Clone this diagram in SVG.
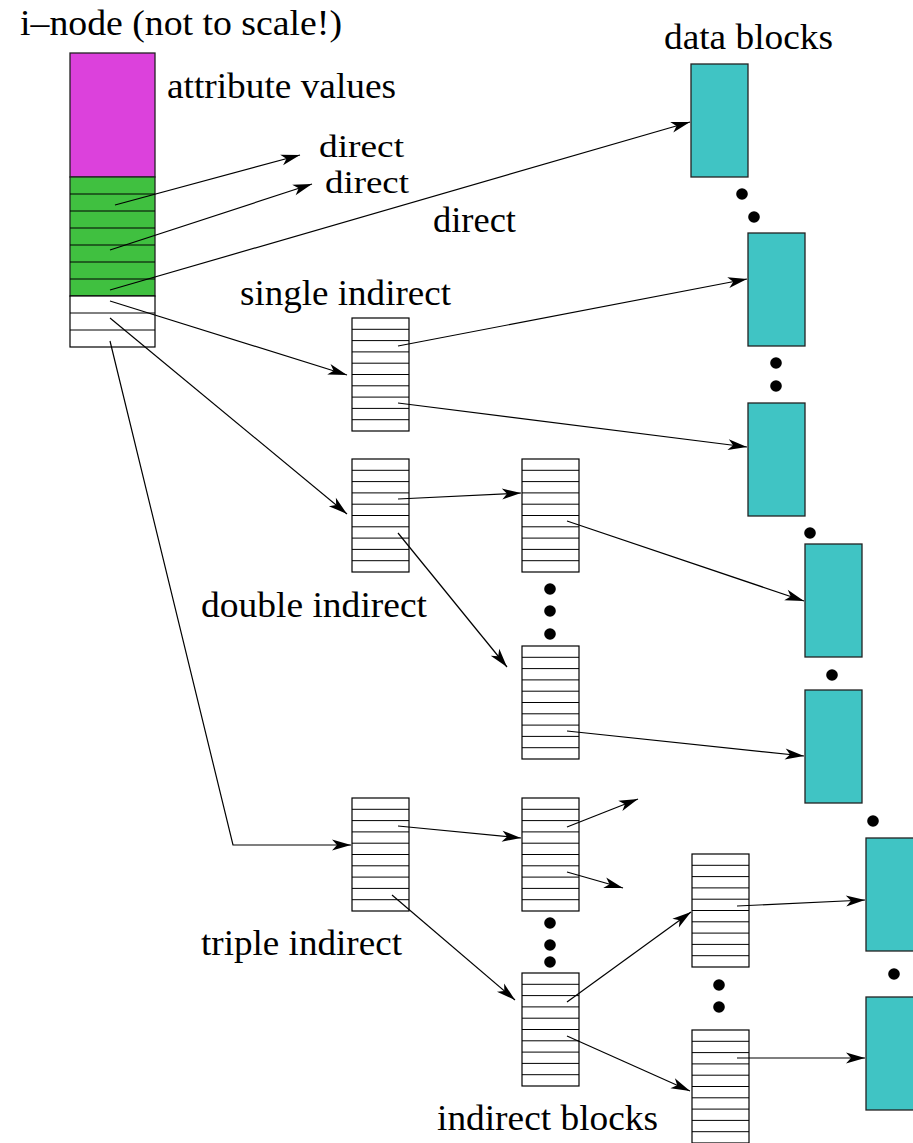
<svg xmlns="http://www.w3.org/2000/svg" xmlns:xlink="http://www.w3.org/1999/xlink" width="913" height="1143" viewBox="0 0 913 1143">
<style>
text{font-family:"Liberation Serif","Times New Roman",serif;font-size:35px;fill:#000}
text.sm{font-size:32px}
.blk{fill:#fff;stroke:#000;stroke-width:1.2}
.row{stroke:#000;stroke-width:1}
.data{fill:#40C4C4;stroke:#222;stroke-width:1.3}
.conn{fill:none;stroke:#000;stroke-width:1.2}
.dot{fill:#000}
</style>
<defs>
<marker id="ah" markerUnits="userSpaceOnUse" markerWidth="22" markerHeight="12" refX="20" refY="6" orient="auto" viewBox="0 0 22 12">
<path d="M20,6 L1,0.5 L6,6 L1,11.5 Z" fill="#000"/>
</marker>
<g id="iblock">
<rect class="blk" x="0" y="0" width="57" height="113"/>
<path class="row" d="M0,11.3H57M0,22.6H57M0,33.9H57M0,45.2H57M0,56.5H57M0,67.8H57M0,79.1H57M0,90.4H57M0,101.7H57"/>
</g>
</defs>

<g id="labels">
<text x="20" y="35" textLength="322" lengthAdjust="spacingAndGlyphs">i–node (not to scale!)</text>
<text x="167" y="98" textLength="229" lengthAdjust="spacingAndGlyphs">attribute values</text>
<text class="sm" x="319" y="157" textLength="85" lengthAdjust="spacingAndGlyphs">direct</text>
<text class="sm" x="325" y="193" textLength="84" lengthAdjust="spacingAndGlyphs">direct</text>
<text x="433" y="232" textLength="83" lengthAdjust="spacingAndGlyphs">direct</text>
<text x="664" y="49" textLength="169" lengthAdjust="spacingAndGlyphs">data blocks</text>
<text x="240" y="305" textLength="211" lengthAdjust="spacingAndGlyphs">single indirect</text>
<text x="201" y="617" textLength="226" lengthAdjust="spacingAndGlyphs">double indirect</text>
<text x="201" y="955" textLength="201" lengthAdjust="spacingAndGlyphs">triple indirect</text>
<text x="437" y="1130" textLength="221" lengthAdjust="spacingAndGlyphs">indirect blocks</text>
</g>

<g id="inode">
<rect x="70" y="53" width="85" height="124" fill="#DC41DC" stroke="#222" stroke-width="1.3"/>
<rect x="70" y="177" width="85" height="119" fill="#40C040" stroke="#222" stroke-width="1.3"/>
<path class="row" stroke="#1a4a1a" d="M70,194H155M70,211H155M70,228H155M70,245H155M70,262H155M70,279H155"/>
<rect class="blk" x="70" y="296" width="85" height="51"/>
<path class="row" d="M70,313H155M70,330H155"/>
</g>

<g id="single-indirect"><use xlink:href="#iblock" x="352" y="318"/></g>
<g id="double-indirect"><use xlink:href="#iblock" x="352" y="459"/></g>
<g id="double-l2-top"><use xlink:href="#iblock" x="522" y="459"/></g>
<g id="double-l2-bottom"><use xlink:href="#iblock" x="522" y="646"/></g>
<g id="triple-indirect"><use xlink:href="#iblock" x="352" y="798"/></g>
<g id="triple-l2-top"><use xlink:href="#iblock" x="522" y="798"/></g>
<g id="triple-l2-bottom"><use xlink:href="#iblock" x="522" y="973"/></g>
<g id="triple-l3-top"><use xlink:href="#iblock" x="692" y="854"/></g>
<g id="triple-l3-bottom"><use xlink:href="#iblock" x="692" y="1030"/></g>

<g id="data-block-1"><rect class="data" x="691" y="64" width="57" height="113"/></g>
<g id="data-block-2"><rect class="data" x="748" y="233" width="57" height="113"/></g>
<g id="data-block-3"><rect class="data" x="748" y="403" width="57" height="113"/></g>
<g id="data-block-4"><rect class="data" x="805" y="544" width="57" height="113"/></g>
<g id="data-block-5"><rect class="data" x="805" y="690" width="57" height="113"/></g>
<g id="data-block-6"><rect class="data" x="866" y="838" width="57" height="113"/></g>
<g id="data-block-7"><rect class="data" x="866" y="997" width="57" height="113"/></g>

<g id="ellipsis-dots">
<circle class="dot" cx="742" cy="194" r="5.8"/>
<circle class="dot" cx="754" cy="217" r="5.8"/>
<circle class="dot" cx="776" cy="363" r="5.8"/>
<circle class="dot" cx="776" cy="386" r="5.8"/>
<circle class="dot" cx="810" cy="533" r="5.8"/>
<circle class="dot" cx="832" cy="675" r="5.8"/>
<circle class="dot" cx="873" cy="821" r="5.8"/>
<circle class="dot" cx="894" cy="974" r="5.8"/>
<circle class="dot" cx="550" cy="589" r="5.8"/>
<circle class="dot" cx="550" cy="611" r="5.8"/>
<circle class="dot" cx="550" cy="634" r="5.8"/>
<circle class="dot" cx="550" cy="923" r="5.8"/>
<circle class="dot" cx="550" cy="945" r="5.8"/>
<circle class="dot" cx="550" cy="962" r="5.8"/>
<circle class="dot" cx="719" cy="985" r="5.8"/>
<circle class="dot" cx="719" cy="1007" r="5.8"/>
</g>

<g id="connectors">
<path class="conn" marker-end="url(#ah)" d="M115,205L300,155"/>
<path class="conn" marker-end="url(#ah)" d="M110,250L312,184"/>
<path class="conn" marker-end="url(#ah)" d="M110,290L690,122"/>
<path class="conn" marker-end="url(#ah)" d="M110,301L347,375"/>
<path class="conn" marker-end="url(#ah)" d="M110,318L347,514"/>
<path class="conn" marker-end="url(#ah)" d="M110,341L233,845L351,845"/>
<path class="conn" marker-end="url(#ah)" d="M398,346L747,279"/>
<path class="conn" marker-end="url(#ah)" d="M398,403L747,447"/>
<path class="conn" marker-end="url(#ah)" d="M398,499L521,493"/>
<path class="conn" marker-end="url(#ah)" d="M398,533L507,667"/>
<path class="conn" marker-end="url(#ah)" d="M567,521L804,601"/>
<path class="conn" marker-end="url(#ah)" d="M567,731L804,756"/>
<path class="conn" marker-end="url(#ah)" d="M398,826L521,838"/>
<path class="conn" marker-end="url(#ah)" d="M392,895L515,1000"/>
<path class="conn" marker-end="url(#ah)" d="M567,827L638,799"/>
<path class="conn" marker-end="url(#ah)" d="M567,872L623,888"/>
<path class="conn" marker-end="url(#ah)" d="M567,1002L691,912"/>
<path class="conn" marker-end="url(#ah)" d="M567,1036L690,1091"/>
<path class="conn" marker-end="url(#ah)" d="M737,906L865,900"/>
<path class="conn" marker-end="url(#ah)" d="M737,1058L865,1058"/>
</g>
</svg>
